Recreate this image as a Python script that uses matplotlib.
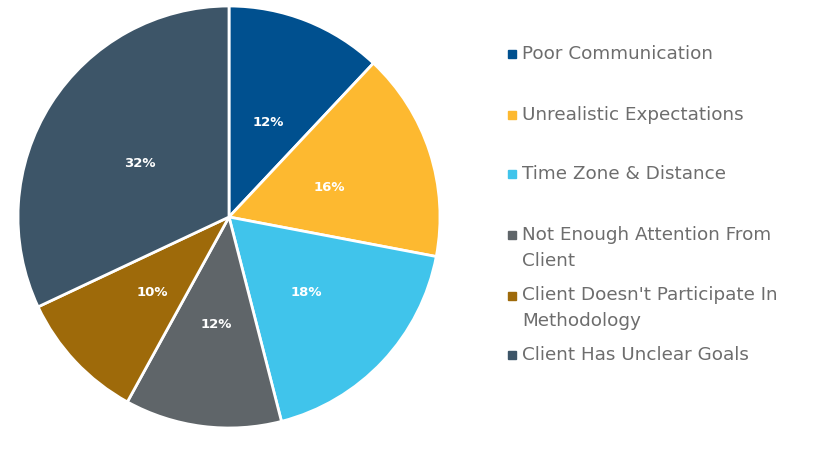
import matplotlib
matplotlib.use("Agg")
import matplotlib.pyplot as plt
from matplotlib.patches import Rectangle

categories = ["Poor Communication", "Unrealistic Expectations", "Time Zone & Distance",
              "Not Enough Attention From\nClient", "Client Doesn't Participate In\nMethodology",
              "Client Has Unclear Goals"]
values = [12, 16, 18, 12, 10, 32]
colors = ["#00508F", "#FDB930", "#40C4EB", "#5F6569", "#9E6A0A", "#3D5568"]
legend_y = [54, 115, 174, 248, 308, 355]  # pixel centers of legend entries

W, H = 815, 451
fig = plt.figure(figsize=(W / 100, H / 100), dpi=100)
cx, cy, r = 229, 217, 211
ax = fig.add_axes([(cx - r) / W, 1 - (cy + r) / H, 2 * r / W, 2 * r / H])
ax.pie(values, colors=colors, startangle=90, counterclock=False,
       autopct=lambda p: f"{p:.0f}%", pctdistance=0.5,
       wedgeprops=dict(edgecolor="white", linewidth=2),
       textprops=dict(color="white", fontsize=9.5, fontweight="bold", family="DejaVu Sans"),
       radius=1)
for t in ax.texts:
    x, y = t.get_position()
    t.set_position((x, y - 0.015))
ax.set_xlim(-1.0, 1.0)
ax.set_ylim(-1.0, 1.0)
ax.set_aspect("equal")
ax.axis("off")

for lab, col, y in zip(categories, colors, legend_y):
    nlines = lab.count("\n") + 1
    top = y - (nlines - 1) * 12.5
    fig.patches.append(Rectangle((508 / W, 1 - (top + 4) / H), 8 / W, 8 / H,
                                 transform=fig.transFigure, color=col))
    fig.text(522 / W, 1 - y / H, lab, color="#6D6D6D", fontsize=13.2,
             family="DejaVu Sans", va="center", ha="left", linespacing=1.55)

fig.savefig("out.png", dpi=100, facecolor="white")
